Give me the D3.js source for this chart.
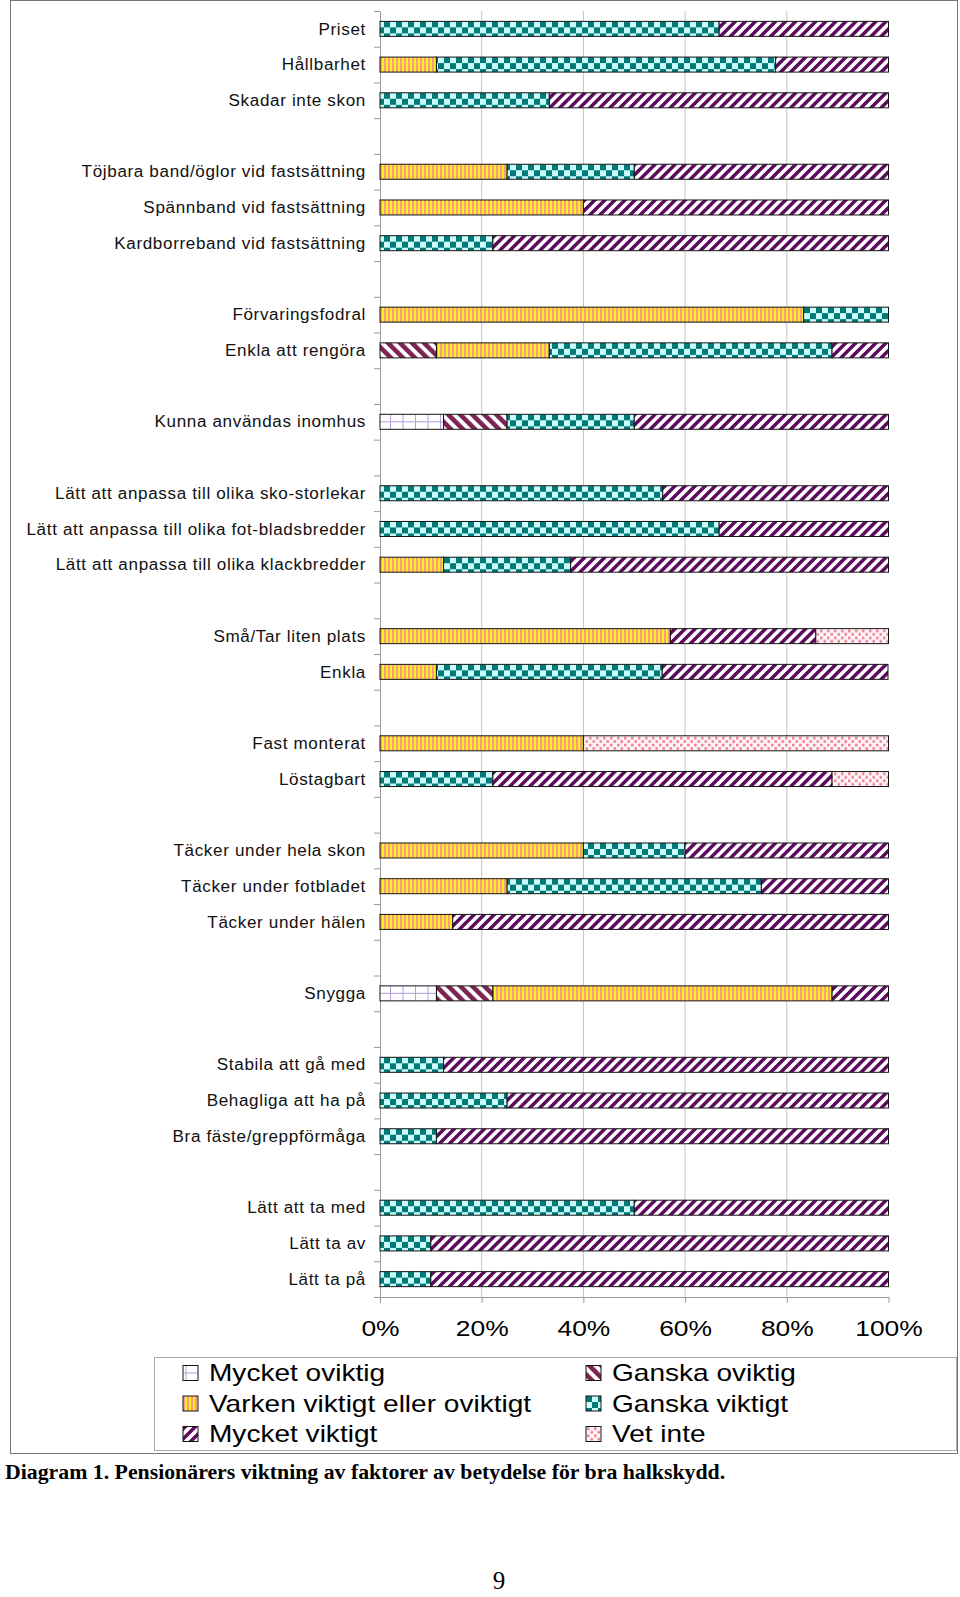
<!DOCTYPE html>
<html>
<head>
<meta charset="utf-8">
<script src="https://cdnjs.cloudflare.com/ajax/libs/d3/7.8.5/d3.min.js"></script>
<style>
  body { margin: 0; background: #fff; }
  svg { display: block; }
</style>
</head>
<body>
<div id="chart"></div>
<script>
// Row labels, top to bottom ("" = empty spacer row)
var categories = [
  "Priset", "Hållbarhet", "Skadar inte skon", "",
  "Töjbara band/öglor vid fastsättning", "Spännband vid fastsättning", "Kardborreband vid fastsättning", "",
  "Förvaringsfodral", "Enkla att rengöra", "",
  "Kunna användas inomhus", "",
  "Lätt att anpassa till olika sko-storlekar", "Lätt att anpassa till olika fot-bladsbredder", "Lätt att anpassa till olika klackbredder", "",
  "Små/Tar liten plats", "Enkla", "",
  "Fast monterat", "Löstagbart", "",
  "Täcker under hela skon", "Täcker under fotbladet", "Täcker under hälen", "",
  "Snygga", "",
  "Stabila att gå med", "Behagliga att ha på", "Bra fäste/greppförmåga", "",
  "Lätt att ta med", "Lätt ta av", "Lätt ta på"
];

// Percent per answer, same order as categories
var mycketOviktig = [0,0,0,0, 0,0,0,0, 0,0,0, 12.5,0, 0,0,0,0, 0,0,0, 0,0,0, 0,0,0,0, 11.1,0, 0,0,0,0, 0,0,0];
var ganskaOviktig = [0,0,0,0, 0,0,0,0, 0,11.1,0, 12.5,0, 0,0,0,0, 0,0,0, 0,0,0, 0,0,0,0, 11.1,0, 0,0,0,0, 0,0,0];
var varken        = [0,11.1,0,0, 25,40,0,0, 83.3,22.2,0, 0,0, 0,0,12.5,0, 57.1,11.1,0, 40,0,0, 40,25,14.3,0, 66.7,0, 0,0,0,0, 0,0,0];
var ganskaViktigt = [66.7,66.7,33.3,0, 25,0,22.2,0, 16.7,55.6,0, 25,0, 55.6,66.7,25,0, 0,44.4,0, 0,22.2,0, 20,50,0,0, 0,0, 12.5,25,11.1,0, 50,10,10];
var mycketViktigt = [33.3,22.2,66.7,0, 50,60,77.8,0, 0,11.1,0, 50,0, 44.4,33.3,62.5,0, 28.6,44.4,0, 0,66.7,0, 40,25,85.7,0, 11.1,0, 87.5,75,88.9,0, 50,90,90];
var vetInte       = [0,0,0,0, 0,0,0,0, 0,0,0, 0,0, 0,0,0,0, 14.3,0,0, 60,11.1,0, 0,0,0,0, 0,0, 0,0,0,0, 0,0,0];

var seriesNames = ["Mycket oviktig", "Ganska oviktig", "Varken viktigt eller oviktigt", "Ganska viktigt", "Mycket viktigt", "Vet inte"];
var tickValues = [0, 20, 40, 60, 80, 100];

var keys = ["mo", "go", "va", "gv", "mv", "vi"];
var seriesArrays = [mycketOviktig, ganskaOviktig, varken, ganskaViktigt, mycketViktigt, vetInte];

var rows = categories.map(function (c, i) {
  var r = { idx: i, label: c };
  keys.forEach(function (k, j) { r[k] = seriesArrays[j][i]; });
  return r;
});
var stacked = d3.stack().keys(keys)(rows);

var W = 960, H = 1597;
var svg = d3.select("#chart").append("svg").attr("width", W).attr("height", H);

var x = d3.scaleLinear().domain([0, 100]).range([380, 888.5]);
var y = d3.scaleBand()
  .domain(d3.range(categories.length))
  .range([11, 1297])
  .paddingInner(0.58)
  .paddingOuter(0.29);
var yEdge = d3.scaleLinear().domain([0, categories.length]).range([11, 1297]);
var bh = y.bandwidth();

// Fill patterns
var defs = svg.append("defs");

var pMo = defs.append("pattern").attr("id", "p-mo").attr("patternUnits", "userSpaceOnUse")
  .attr("x", 2.5).attr("width", 12.5).attr("height", 60);
pMo.append("rect").attr("width", 12.5).attr("height", 60).attr("fill", "#fff");
pMo.append("rect").attr("x", 0).attr("width", 1).attr("height", 60).attr("fill", "#b49be0");
pMo.append("rect").attr("y", bh / 2 - 0.5).attr("width", 12.5).attr("height", 1).attr("fill", "#b49be0");

var pGo = defs.append("pattern").attr("id", "p-go").attr("patternUnits", "userSpaceOnUse")
  .attr("width", 8.5).attr("height", 8.5).attr("patternTransform", "rotate(-45)");
pGo.append("rect").attr("width", 8.5).attr("height", 8.5).attr("fill", "#fff");
pGo.append("rect").attr("width", 4.6).attr("height", 8.5).attr("fill", "#7b2452");

var pVa = defs.append("pattern").attr("id", "p-va").attr("patternUnits", "userSpaceOnUse")
  .attr("width", 4).attr("height", 4);
pVa.append("rect").attr("width", 4).attr("height", 4).attr("fill", "#ffee22");
pVa.append("rect").attr("width", 2).attr("height", 4).attr("fill", "#f99c86");

var pGv = defs.append("pattern").attr("id", "p-gv").attr("patternUnits", "userSpaceOnUse")
  .attr("width", 12).attr("height", 12);
pGv.append("rect").attr("width", 12).attr("height", 12).attr("fill", "#cbfcfc");
pGv.append("rect").attr("width", 6).attr("height", 6).attr("fill", "#007a78");
pGv.append("rect").attr("x", 6).attr("y", 6).attr("width", 6).attr("height", 6).attr("fill", "#007a78");

var pMv = defs.append("pattern").attr("id", "p-mv").attr("patternUnits", "userSpaceOnUse")
  .attr("width", 7.1).attr("height", 7.1).attr("patternTransform", "rotate(45)");
pMv.append("rect").attr("width", 7.1).attr("height", 7.1).attr("fill", "#fff");
pMv.append("rect").attr("width", 3.5).attr("height", 7.1).attr("fill", "#5c0a5e");

var pVi = defs.append("pattern").attr("id", "p-vi").attr("patternUnits", "userSpaceOnUse")
  .attr("width", 7).attr("height", 7);
pVi.append("rect").attr("width", 7).attr("height", 7).attr("fill", "#fff4f6");
pVi.append("rect").attr("x", 1).attr("y", 1).attr("width", 2.5).attr("height", 2.5).attr("fill", "#ee7b8e");
pVi.append("rect").attr("x", 4.5).attr("y", 4.5).attr("width", 2.5).attr("height", 2.5).attr("fill", "#ee7b8e");

// Outer chart frame
svg.append("rect")
  .attr("x", 10.5).attr("y", 0.5).attr("width", 947).attr("height", 1453)
  .attr("fill", "none").attr("stroke", "#777").attr("stroke-width", 1);

// Gridlines
svg.append("g")
  .selectAll("line")
  .data(tickValues.slice(1, -1))
  .join("line")
  .attr("x1", function (d) { return x(d); })
  .attr("x2", function (d) { return x(d); })
  .attr("y1", 11).attr("y2", 1297)
  .attr("stroke", "#c4c4c4").attr("stroke-width", 1);

// Left axis with ticks at category boundaries
var yAxisG = svg.append("g")
  .attr("transform", "translate(" + x(0) + ",0)")
  .call(d3.axisLeft(yEdge).ticks(categories.length).tickFormat("").tickSize(6).tickSizeOuter(0));
yAxisG.select(".domain").attr("stroke", "#9a9a9a");
yAxisG.selectAll(".tick line").attr("stroke", "#9a9a9a");

// Bottom axis
var xAxisG = svg.append("g")
  .attr("transform", "translate(0,1297)")
  .call(d3.axisBottom(x).tickValues(tickValues).tickFormat(function (d) { return d + "%"; })
    .tickSize(6).tickSizeOuter(0).tickPadding(17));
xAxisG.select(".domain").attr("stroke", "#9a9a9a");
xAxisG.selectAll(".tick line").attr("stroke", "#9a9a9a");
xAxisG.selectAll(".tick text")
  .attr("fill", "#000")
  .style("font-family", "'Liberation Sans', Arial, sans-serif")
  .style("font-size", "22px")
  .attr("transform", "scale(1.2,1)");

// Bars
var rowG = svg.append("g")
  .selectAll("g")
  .data(rows)
  .join("g")
  .attr("transform", function (d) { return "translate(0," + y(d.idx) + ")"; });

rowG.selectAll("rect")
  .data(function (d) {
    return keys.map(function (k, j) {
      return { key: k, x0: stacked[j][d.idx][0], x1: stacked[j][d.idx][1] };
    }).filter(function (s) { return s.x1 > s.x0; });
  })
  .join("rect")
  .attr("x", function (s) { return x(s.x0); })
  .attr("width", function (s) { return x(s.x1) - x(s.x0); })
  .attr("y", 0)
  .attr("height", bh)
  .attr("fill", function (s) { return "url(#p-" + s.key + ")"; })
  .attr("stroke", "#151515")
  .attr("stroke-width", 1);

// Category labels
svg.append("g")
  .selectAll("text")
  .data(rows.filter(function (d) { return d.label !== ""; }))
  .join("text")
  .attr("transform", function (d) {
    return "translate(366," + (y(d.idx) + bh / 2) + ") scale(1.08,1)";
  })
  .attr("dy", "0.36em")
  .attr("text-anchor", "end")
  .attr("fill", "#111")
  .style("font-family", "'Liberation Sans', Arial, sans-serif")
  .style("font-size", "15.8px")
  .style("letter-spacing", "0.6px")
  .text(function (d) { return d.label; });

// Legend
svg.append("rect")
  .attr("x", 154.5).attr("y", 1357.5).attr("width", 802).attr("height", 93)
  .attr("fill", "#fff").attr("stroke", "#aaa").attr("stroke-width", 1);

var legendRows = [1373, 1403.5, 1434];
var legendCols = [183, 586];
var legend = svg.append("g")
  .selectAll("g")
  .data(seriesNames)
  .join("g")
  .attr("transform", function (d, i) {
    return "translate(" + legendCols[i % 2] + "," + legendRows[Math.floor(i / 2)] + ")";
  });

legend.append("g")
  .attr("transform", "translate(0,-7.5)")
  .append("rect")
  .attr("width", 15).attr("height", 15)
  .attr("fill", function (d, i) { return "url(#p-" + keys[i] + ")"; })
  .attr("stroke", "#151515").attr("stroke-width", 1);

legend.append("text")
  .attr("transform", "translate(26,0) scale(1.22,1)")
  .attr("dy", "0.36em")
  .style("font-family", "'Liberation Sans', Arial, sans-serif")
  .style("font-size", "23px")
  .text(function (d) { return d; });

// Caption and page number
svg.append("text")
  .attr("x", 5).attr("y", 1479)
  .style("font-family", "'Liberation Serif', 'Times New Roman', serif")
  .style("font-weight", "bold")
  .style("font-size", "21.8px")
  .text("Diagram 1. Pensionärers viktning av faktorer av betydelse för bra halkskydd.");

svg.append("text")
  .attr("x", 499).attr("y", 1589)
  .attr("text-anchor", "middle")
  .style("font-family", "'Liberation Serif', 'Times New Roman', serif")
  .style("font-size", "25px")
  .text("9");
</script>
</body>
</html>
